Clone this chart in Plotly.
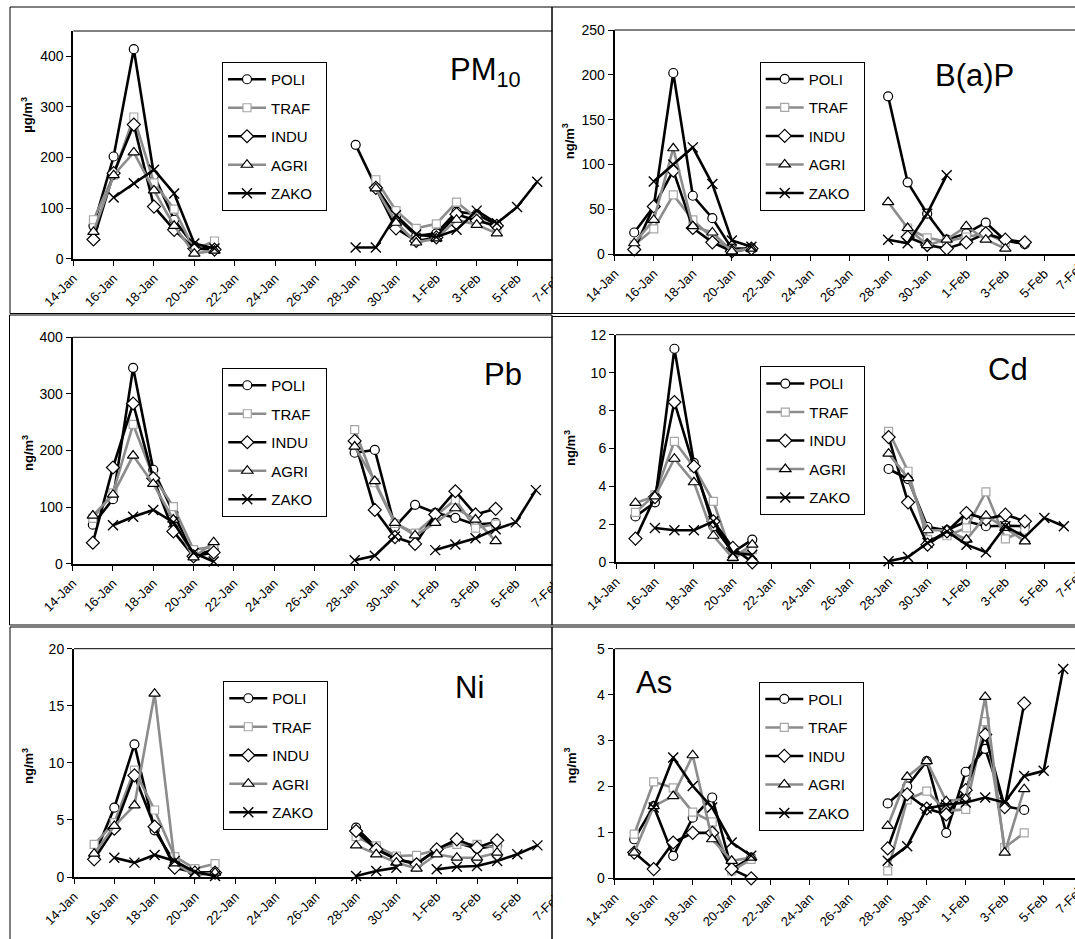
import datetime as dt
import plotly.graph_objects as go

W, H = 1075, 939
FONT = "Liberation Sans, Arial, sans-serif"

# ---------------- data ----------------
DATES_JAN = ["2007-01-15", "2007-01-16", "2007-01-17", "2007-01-18",
             "2007-01-19", "2007-01-20", "2007-01-21"]
DATES_FEB = ["2007-01-28", "2007-01-29", "2007-01-30", "2007-01-31",
             "2007-02-01", "2007-02-02", "2007-02-03", "2007-02-04",
             "2007-02-05", "2007-02-06"]
STATIONS = ["POLI", "TRAF", "INDU", "AGRI", "ZAKO"]

PM10_POLI = [65, 202, 414, 165, 77, 25, 20, 225, 142, 83, 45, 50, 93, 88, 67, None, None]
PM10_TRAF = [77, 165, 280, 150, 98, 18, 35, None, 156, 95, 60, 69, 112, 80, 60, None, None]
PM10_INDU = [38, 169, 265, 103, 57, 20, 18, None, 140, 60, 35, 42, 88, 75, 65, None, None]
PM10_AGRI = [53, 165, 210, 135, 65, 10, 16, None, 139, 71, 32, 40, 77, 67, 50, None, None]
PM10_ZAKO = [None, 121, 149, 176, 129, 30, 20, 22, 22, 86, 48, 43, 57, 95, 70, 102, 152]

BAP_POLI = [24, 53, 202, 65, 40, 6, 6, 176, 80, 45, 16, 23, 35, 15, 11, None, None]
BAP_TRAF = [10, 28, 66, 38, 18, 3, 6, None, 29, 18, 14, 19, 23, 13, None, None, None]
BAP_INDU = [5, 53, 93, 29, 13, 3, 6, None, 19, 10, 6, 13, 23, 16, 13, None, None]
BAP_AGRI = [12, 38, 118, 31, 24, 3, 6, 58, 29, 10, 16, 31, 16, 6, None, None, None]
BAP_ZAKO = [None, 81, 100, 119, 78, 15, 8, 16, 12, 45, 88, None, None, None, None, None, None]

PB_POLI = [69, 114, 346, 166, 90, 13, 25, 196, 201, 65, 104, 90, 81, 69, 72, None, None]
PB_TRAF = [80, 125, 246, 154, 101, 25, 30, 237, 143, 71, 54, 84, 113, 63, 70, None, None]
PB_INDU = [37, 170, 283, 151, 57, 13, 20, 217, 95, 47, 35, 87, 128, 87, 97, None, None]
PB_AGRI = [85, 122, 191, 141, 78, 11, 38, 207, 146, 72, 50, 72, 98, 78, 40, None, None]
PB_ZAKO = [None, 68, 83, 95, 73, 19, 4, 6, 14, 48, None, 24, 34, 45, 61, 73, 130]

CD_POLI = [2.42, 3.16, 11.26, 5.24, 1.9, 0.53, 1.2, 4.92, 4.39, 1.86, 1.69, 2.16, 1.9, 1.93, 1.9, None, None]
CD_TRAF = [2.63, 3.57, 6.38, 5.02, 3.21, 0.23, 0.67, 6.9, 4.8, 1.2, 1.4, 1.81, 3.71, 1.23, 1.7, None, None]
CD_INDU = [1.25, 3.44, 8.45, 5.06, 2.16, 0.76, 0.0, 6.6, 3.16, 0.93, 1.63, 2.6, 2.28, 2.51, 2.16, None, None]
CD_AGRI = [3.13, 3.48, 5.46, 4.22, 1.4, 0.23, 0.93, 5.73, 4.44, 1.69, 1.69, 1.2, 2.46, 1.81, 1.1, None, None]
CD_ZAKO = [None, 1.81, 1.69, 1.69, 2.16, 0.49, 0.4, 0.05, 0.28, 1.02, 1.63, 0.93, 0.53, 1.9, 1.34, 2.34, 1.9]

NI_POLI = [1.84, 6.07, 11.62, 4.09, 1.26, 0.38, 0.38, 4.32, 2.57, 1.55, 1.2, 2.36, 3.0, 2.48, 2.77, None, None]
NI_TRAF = [2.86, 4.76, 9.37, 5.87, 1.78, 0.73, 1.17, 3.53, 2.72, 1.84, 1.9, 2.36, 2.86, 2.86, 2.57, None, None]
NI_INDU = [1.55, 4.23, 8.9, 4.41, 0.82, 0.38, 0.38, 4.03, 2.42, 1.55, 1.11, 2.42, 3.3, 2.57, 3.21, None, None]
NI_AGRI = [2.04, 4.47, 6.28, 16.06, 1.2, 0.15, 0.38, 2.77, 1.99, 1.26, 0.73, 1.99, 1.69, 1.69, 2.13, None, None]
NI_ZAKO = [None, 1.69, 1.26, 1.93, 1.4, 0.44, 0.09, 0.09, 0.53, 0.82, None, 0.67, 0.9, 0.96, 1.4, 1.99, 2.77]

AS_POLI = [0.85, 1.57, 0.49, 1.32, 1.76, 0.2, 0.45, 1.63, 2.0, 2.55, 0.99, 2.32, 2.82, 1.57, 1.49, None, None]
AS_TRAF = [0.96, 2.1, 1.97, 1.44, 1.23, 0.16, 0.41, 0.16, 1.71, 1.9, 1.47, 1.5, 3.41, 0.67, 0.99, None, None]
AS_INDU = [0.56, 0.2, 0.78, 0.99, 0.99, 0.2, 0.0, 0.65, 1.83, 1.52, 1.39, 1.92, 3.13, 1.55, 3.81, None, None]
AS_AGRI = [0.56, 1.57, 1.79, 2.68, 0.85, 0.38, 0.45, 1.14, 2.21, 2.55, 1.68, 1.73, 3.95, 0.56, 1.94, None, None]
AS_ZAKO = [None, 1.54, 2.63, 2.01, 1.54, 0.78, 0.49, 0.38, 0.7, 1.52, 1.6, 1.65, 1.76, 1.65, 2.23, 2.34, 4.56]

TITLES = ["PM<sub>10</sub>", "B(a)P", "Pb", "Cd", "Ni", "As"]
UNITS = ["µg/m<sup>3</sup>", "ng/m<sup>3</sup>", "ng/m<sup>3</sup>",
         "ng/m<sup>3</sup>", "ng/m<sup>3</sup>", "ng/m<sup>3</sup>"]
Y_MAX = [450, 250, 400, 12, 20, 5]
Y_STEP = [100, 50, 100, 2, 5, 1]
EDGE_TICK = "2007-02-07"   # last date tick, partly beyond the page on the right charts
SERIES = [
    [PM10_POLI, PM10_TRAF, PM10_INDU, PM10_AGRI, PM10_ZAKO],
    [BAP_POLI, BAP_TRAF, BAP_INDU, BAP_AGRI, BAP_ZAKO],
    [PB_POLI, PB_TRAF, PB_INDU, PB_AGRI, PB_ZAKO],
    [CD_POLI, CD_TRAF, CD_INDU, CD_AGRI, CD_ZAKO],
    [NI_POLI, NI_TRAF, NI_INDU, NI_AGRI, NI_ZAKO],
    [AS_POLI, AS_TRAF, AS_INDU, AS_AGRI, AS_ZAKO],
]

# ---------------- layout geometry (pixels) ----------------
# plot area: x0 (=14-Jan), x1, top, bottom, px per day
GEO = [
    (73.3, 560, 31.0, 258.7, 20.17),
    (614.7, 1075, 30.0, 254.0, 19.53),
    (72.7, 560, 337.3, 563.7, 20.14),
    (616.0, 1075, 334.7, 562.3, 19.47),
    (74.0, 560, 648.7, 877.0, 20.15),
    (614.7, 1075, 648.7, 878.3, 19.50),
]
LEGEND_POS = [(222, 62), (759.7, 61.7), (222.3, 368), (760.3, 366.3), (223.3, 681), (759.3, 681.7)]
TITLE_POS = [(485, 72), (974, 76), (502.5, 375), (1008, 369), (469, 687.5), (654, 682)]
UNIT_POS = [(26.7, 115), (568.7, 141.5), (28, 453), (570, 448), (28, 766), (570, 765.5)]
FRAMES = [  # x0, x1, y0, y1
    (10, 552, 7, 313.5), (552, 1090, 7, 313.5),
    (9.5, 552, 315, 625), (552, 1090, 316.5, 625),
    (10, 552, 627, 960), (552, 1090, 627, 960),
]
XTICK_SIZE = 13

STYLE = {
    "POLI": dict(lc="black", sym="circle", mlc="black", ms=9),
    "TRAF": dict(lc="#8c8c8c", sym="square", mlc="#a6a6a6", ms=8),
    "INDU": dict(lc="black", sym="diamond", mlc="black", ms=10),
    "AGRI": dict(lc="#8c8c8c", sym="triangle-up", mlc="black", ms=10),
    "ZAKO": dict(lc="black", sym="x-thin-open", mlc="black", ms=10),
}
NBSP = "\u00a0"


def fx(px):
    return px / W


def fy(py):
    return 1 - py / H


fig = go.Figure()
start = dt.datetime(2007, 1, 14)
GAP = "2007-01-25"
layout = dict(
    width=W, height=H, margin=dict(l=0, r=0, t=0, b=0, pad=0, autoexpand=False),
    paper_bgcolor="white", plot_bgcolor="white", showlegend=True,
    font=dict(family=FONT, color="black"),
)
shapes = []
annotations = []

for i in range(6):
    n = "" if i == 0 else str(i + 1)
    x0, x1, top, bot, pxd = GEO[i]
    xa = "x" + n
    ya = "y" + n
    leg = "legend" + n
    xs = DATES_JAN + [GAP] + DATES_FEB
    for s, vals in zip(STATIONS, SERIES[i]):
        st = STYLE[s]
        ys = vals[:7] + [None] + vals[7:]
        is_x = s == "ZAKO"
        fig.add_trace(go.Scatter(
            x=xs, y=ys, name=s + NBSP * 2, mode="lines+markers", xaxis=xa, yaxis=ya,
            legend=leg, legendgroup=f"{i}_{s}", cliponaxis=False,
            line=dict(color=st["lc"], width=2.6),
            marker=dict(symbol=st["sym"], size=st["ms"],
                        color="black" if is_x else "white",
                        line=dict(color=st["mlc"], width=1.4 if is_x else 1.2)),
        ))
    days = (x1 - x0) / pxd
    end = start + dt.timedelta(days=days)
    layout["xaxis" + n] = dict(
        domain=[fx(x0), fx(x1)], anchor=ya, type="date", automargin=False,
        range=[start.isoformat(), end.isoformat()],
        tick0="2007-01-14", dtick=2 * 86400000, tickformat="%-d-%b",
        tickangle=-45, ticks="outside", ticklen=5, tickwidth=1, tickcolor="black",
        showline=True, linecolor="black", linewidth=2, showgrid=False, zeroline=False,
        tickfont=dict(family=FONT, size=XTICK_SIZE, color="black"),
    )
    layout["yaxis" + n] = dict(
        domain=[fy(bot), fy(top)], anchor=xa, range=[0, Y_MAX[i]], automargin=False,
        tick0=0, dtick=Y_STEP[i], ticks="outside", ticklen=5, tickwidth=1,
        tickcolor="black", showline=True, linecolor="black", linewidth=2,
        showgrid=False, zeroline=False,
        tickfont=dict(family=FONT, size=14, color="black"),
    )
    lx, ly = LEGEND_POS[i]
    layout[leg] = dict(
        x=fx(lx), y=fy(ly), xanchor="left", yanchor="top",
        bordercolor="black", borderwidth=1, bgcolor="white",
        font=dict(family=FONT, size=15, color="black"),
        tracegroupgap=6, traceorder="grouped", itemwidth=38,
    )
    # plot area top border
    shapes.append(dict(type="line", xref="paper", yref="paper",
                       x0=fx(x0), x1=fx(x1), y0=fy(top), y1=fy(top),
                       line=dict(color="black", width=1)))
    tx, ty = TITLE_POS[i]
    annotations.append(dict(text=TITLES[i], x=fx(tx), y=fy(ty), xref="paper", yref="paper",
                            xanchor="center", yanchor="middle", showarrow=False,
                            font=dict(family=FONT, size=31, color="black")))
    ux, uy = UNIT_POS[i]
    annotations.append(dict(text="<b>" + UNITS[i] + "</b>", x=fx(ux), y=fy(uy),
                            xref="paper", yref="paper", xanchor="center", yanchor="middle",
                            textangle=-90, showarrow=False,
                            font=dict(family=FONT, size=13, color="black")))
    # right-hand charts: the last date label lies partly outside the page
    if x1 >= W:
        edge = dt.datetime.fromisoformat(EDGE_TICK)
        tick_px = x0 + (edge - start).days * pxd
        annotations.append(dict(text=edge.strftime("%-d-%b"), x=fx(tick_px - 13),
                                y=fy(bot + 21), xref="paper", yref="paper",
                                xanchor="center", yanchor="middle", textangle=-45,
                                showarrow=False,
                                font=dict(family=FONT, size=XTICK_SIZE, color="black")))
        shapes.append(dict(type="line", xref="paper", yref="paper",
                           x0=fx(tick_px), x1=fx(tick_px), y0=fy(bot), y1=fy(bot + 5),
                           line=dict(color="black", width=1)))

# strips hiding overflow of the left charts under the right charts
for (a, b, c, d) in FRAMES[1::2]:
    shapes.append(dict(type="rect", xref="paper", yref="paper", layer="above",
                       x0=fx(552.5), x1=fx(561), y0=fy(d), y1=fy(c),
                       fillcolor="white", line=dict(width=0)))
# chart frames
for (a, b, c, d) in FRAMES:
    shapes.append(dict(type="rect", xref="paper", yref="paper", layer="above",
                       x0=fx(a), x1=fx(b), y0=fy(d), y1=fy(c),
                       line=dict(color="black", width=1)))

layout["shapes"] = shapes
layout["annotations"] = annotations
fig.update_layout(**layout)
fig.write_html("out.html")
